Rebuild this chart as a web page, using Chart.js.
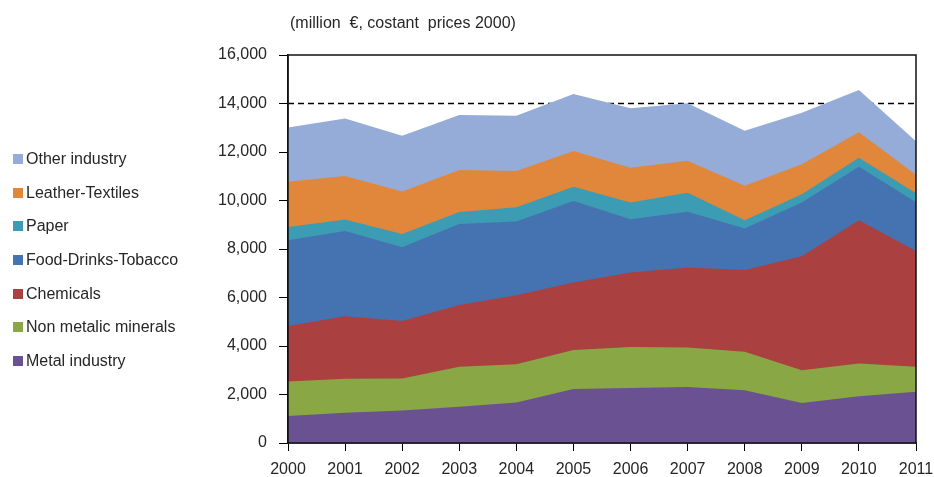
<!DOCTYPE html>
<html>
<head>
<meta charset="utf-8">
<script src="https://cdn.jsdelivr.net/npm/chart.js@4"></script>
<style>
  html, body { margin: 0; padding: 0; background: #fff; }
  #wrap { position: relative; width: 934px; height: 477px; font-family: "Liberation Sans", Arial, sans-serif; color: #262626; }
  #chart { position: absolute; left: 0; top: 0; }
  #title { position: absolute; left: 290px; top: 14px; font-size: 16px; white-space: pre; }
  #legend { position: absolute; left: 13px; top: 150px; font-size: 16px; }
  .item { height: 33.7px; display: flex; align-items: flex-start; white-space: nowrap; }
  .box { width: 10px; height: 10px; margin-top: 4px; margin-right: 3px; }
</style>
</head>
<body>
<div id="wrap">
  <canvas id="chart" width="934" height="477"></canvas>
  <div id="title">(million  €, costant  prices 2000)</div>
  <div id="legend"></div>
</div>
<script>
const years = ['2000','2001','2002','2003','2004','2005','2006','2007','2008','2009','2010','2011'];

// values per sector, bottom of the stack first
const metal    = [1110, 1250, 1340, 1490, 1670, 2230, 2270, 2310, 2180, 1650, 1930, 2110];
const nonMetal = [1430, 1400, 1320, 1650, 1580, 1600, 1690, 1630, 1580, 1350, 1350, 1030];
const chem     = [2280, 2580, 2370, 2550, 2840, 2790, 3070, 3300, 3370, 4700, 5910, 4780];
const food     = [3540, 3510, 3040, 3340, 3040, 3360, 2200, 2300, 1720, 2220, 2200, 2010];
const paper    = [550, 480, 550, 500, 590, 590, 690, 780, 340, 340, 370, 370];
const leather  = [1860, 1790, 1750, 1730, 1500, 1470, 1430, 1320, 1420, 1230, 1050, 760];
const other    = [2240, 2370, 2300, 2270, 2280, 2350, 2450, 2370, 2270, 2130, 1750, 1380];

const refLevel = 14000;

const series = [
  { name: 'Metal industry',      data: metal,    color: '#6a5191' },
  { name: 'Non metalic minerals', data: nonMetal, color: '#89a845' },
  { name: 'Chemicals',           data: chem,     color: '#aa4040' },
  { name: 'Food-Drinks-Tobacco', data: food,     color: '#4572b0' },
  { name: 'Paper',               data: paper,    color: '#3b9cb3' },
  { name: 'Leather-Textiles',    data: leather,  color: '#e0873c' },
  { name: 'Other industry',      data: other,    color: '#96acd8' }
];

// legend, top of the stack first
const legend = document.getElementById('legend');
series.slice().reverse().forEach(s => {
  const row = document.createElement('div');
  row.className = 'item';
  row.innerHTML = '<span class="box" style="background:' + s.color + '"></span>' + s.name;
  legend.appendChild(row);
});

const framePlugin = {
  id: 'frame',
  beforeDatasetsDraw(chart) {
    const { ctx, chartArea: a, scales: { y } } = chart;
    const yy = y.getPixelForValue(refLevel);
    ctx.save();
    ctx.strokeStyle = '#000';
    ctx.lineWidth = 1.5;
    ctx.setLineDash([6, 4]);
    ctx.beginPath();
    ctx.moveTo(a.left, yy);
    ctx.lineTo(a.right, yy);
    ctx.stroke();
    ctx.restore();
  },
  afterDraw(chart) {
    const { ctx, chartArea: a } = chart;
    ctx.save();
    ctx.strokeStyle = '#111';
    ctx.lineWidth = 1.5;
    ctx.strokeRect(a.left, a.top, a.right - a.left, a.bottom - a.top);
    ctx.restore();
  }
};

new Chart(document.getElementById('chart'), {
  type: 'line',
  data: {
    labels: years,
    datasets: series.map(s => ({
      label: s.name,
      data: s.data,
      backgroundColor: s.color,
      borderWidth: 0,
      pointRadius: 0,
      tension: 0,
      fill: 'origin'
    }))
  },
  options: {
    responsive: false,
    animation: false,
    layout: { padding: { top: 55, right: 18, left: 0, bottom: 0 } },
    plugins: { legend: { display: false }, tooltip: { enabled: false } },
    scales: {
      x: {
        offset: false,
        afterFit: s => { s.height = 34; s.paddingLeft = 0; s.paddingRight = 0; },
        grid: { drawOnChartArea: false, drawTicks: true, tickLength: 8, color: '#000' },
        border: { display: true, color: '#111', width: 1.5 },
        ticks: { font: { family: 'Liberation Sans', size: 16 }, color: '#262626', padding: 9, maxRotation: 0, autoSkip: false }
      },
      y: {
        stacked: true,
        min: 0,
        max: 16000,
        afterFit: s => { s.width = 288; s.paddingTop = 0; s.paddingBottom = 0; },
        grid: { drawOnChartArea: false, drawTicks: true, tickLength: 9, color: '#000' },
        border: { display: true, color: '#111', width: 1.5 },
        ticks: {
          stepSize: 2000,
          padding: 12,
          font: { family: 'Liberation Sans', size: 16 },
          color: '#262626',
          callback: v => v.toLocaleString('en-US')
        }
      }
    }
  },
  plugins: [framePlugin]
});
</script>
</body>
</html>
